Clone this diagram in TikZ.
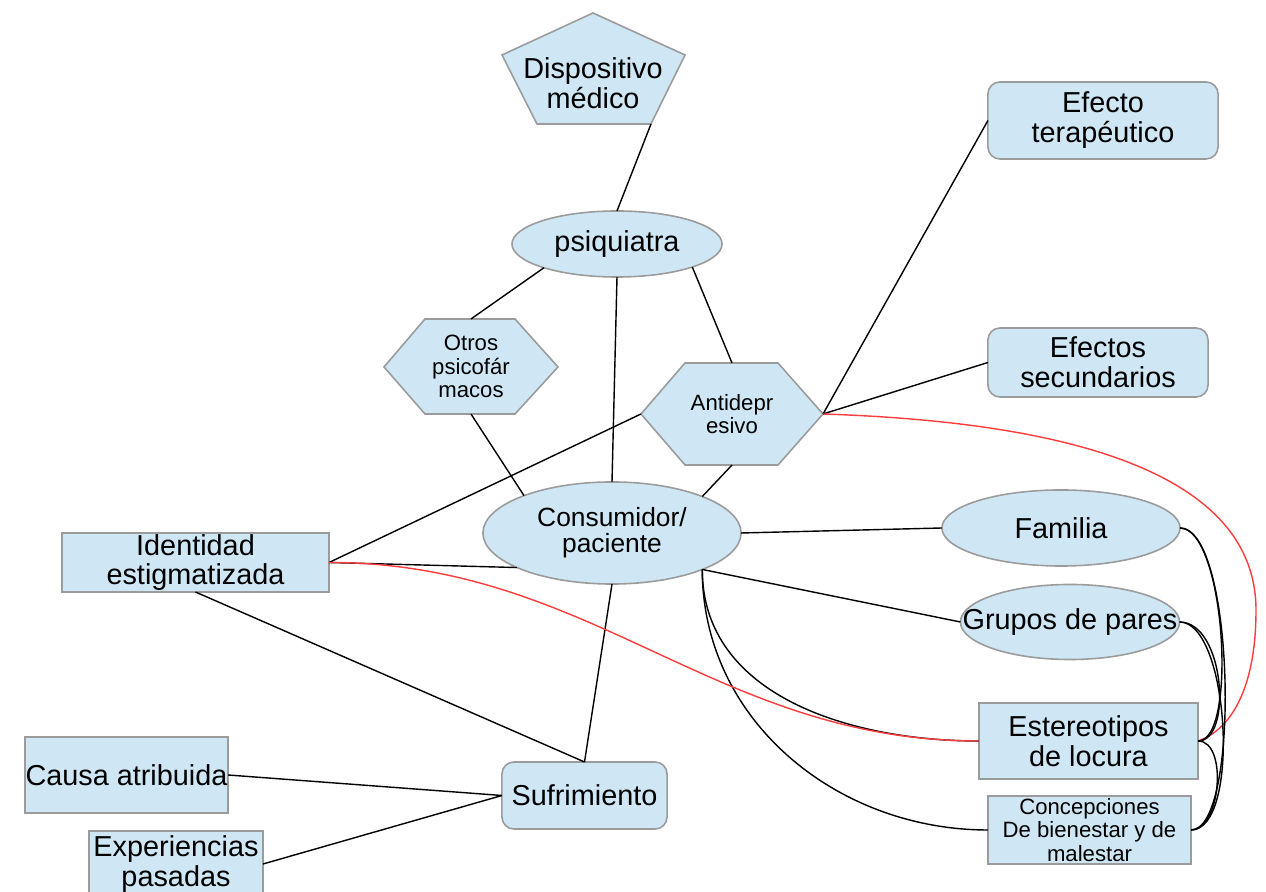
\documentclass[tikz,border=0pt]{standalone}
\usepackage{fontspec}
\setmainfont{Liberation Sans}
\usetikzlibrary{shapes.geometric,calc}
\definecolor{paleblue}{RGB}{207,231,245}
\definecolor{edgegray}{RGB}{155,155,155}
\definecolor{linkred}{RGB}{255,60,60}

\tikzset{
  shp/.style={fill=paleblue,draw=edgegray,line width=0.45pt},
  big/.style={font=\fontsize{8.2}{8.5}\selectfont},
  small/.style={font=\fontsize{6.3}{6.6}\selectfont},
  box/.style={shp,big,rectangle,inner sep=0pt,outer sep=0pt,align=center},
  rbox/.style={box,rounded corners=0.12cm},
  oval/.style={shp,big,ellipse,inner sep=0pt,outer sep=0pt},
  lbl/.style={inner sep=0pt,outer sep=0pt,align=center},
  link/.style={line width=0.4pt,black},
  redlink/.style={line width=0.4pt,linkred}
}

\begin{document}
\begin{tikzpicture}[x=0.01cm,y=-0.01cm]
\useasboundingbox (0,0) rectangle (1266,892);
\clip (0,0) rectangle (1266,892);

% pentagon and hexagons
\draw[shp] (593,13) -- (685,55) -- (651,124) -- (537,124) -- (502,55) -- cycle;
\draw[shp] (384,367) -- (425,319) -- (515,319) -- (558,367) -- (515,414) -- (425,414) -- cycle;
\draw[shp] (641,414) -- (685,363) -- (778,363) -- (823,414) -- (778,465) -- (685,465) -- cycle;

\node[lbl,big] (disp) at (593,83) {Dispositivo\\médico};
\coordinate (dispc) at (651,124);
\node[lbl,small,minimum width=1.74cm,minimum height=0.95cm] (otros) at (471,366.5) {Otros\\psicofár\\macos};
\node[lbl,small,minimum width=1.82cm,minimum height=1.02cm] (antidep) at (732,414) {Antidepr\\esivo};

\node[oval,minimum width=2.10cm,minimum height=0.66cm] (psiq) at (617,244) {psiquiatra};
\node[oval,align=center,font=\fontsize{7.5}{7.4}\selectfont,minimum width=2.58cm,minimum height=1.02cm] (cons) at (612,533) {Consumidor/\\paciente};
\node[oval,minimum width=2.38cm,minimum height=0.76cm] (fam) at (1061,528) {Familia};
\node[oval,minimum width=2.19cm,minimum height=0.75cm] (grupos) at (1070,622) {\makebox[0pt]{Grupos de pares}};

\node[rbox,minimum width=2.30cm,minimum height=0.77cm] (efecto) at (1103,120.5) {Efecto\\terapéutico};
\node[rbox,minimum width=2.20cm,minimum height=0.69cm] (efsec) at (1098,362.5) {Efectos\\secundarios};
\node[box,minimum width=2.19cm,minimum height=0.76cm] (ester) at (1088.5,741) {Estereotipos\\de locura};
\node[box,small,minimum width=2.03cm,minimum height=0.68cm] (concep) at (1089.5,830) {Concepciones\\De bienestar y de\\malestar};
\node[box,minimum width=2.67cm,minimum height=0.59cm] (ident) at (195.5,562.5) {Identidad\\estigmatizada};
\node[box,minimum width=2.03cm,minimum height=0.76cm] (causa) at (126.5,775) {Causa atribuida};
\node[box,minimum width=1.74cm,minimum height=0.66cm] (exper) at (176,864) {Experiencias\\pasadas};
\node[rbox,minimum width=1.65cm,minimum height=0.67cm] (suf) at (584.5,795.5) {Sufrimiento};

% straight links
\draw[link] (dispc) -- (psiq.north);
\draw[link] (psiq.198) -- (otros.north);
\draw[link] (psiq.south) -- (cons.north);
\draw[link] (psiq.343) -- (antidep.north);
\draw[link] (otros.south) -- (cons.157);
\draw[link] (antidep.south) -- (cons.22);
\draw[link] (antidep.west) -- (ident.east);
\draw[link] (cons.200) -- (ident.east);
\draw[link] (antidep.east) -- (efecto.west);
\draw[link] (antidep.east) -- (efsec.west);
\draw[link] (cons.east) -- (fam.west);
\draw[link] (cons.338) -- (grupos.west);
\draw[link] (cons.south) -- (suf.north);
\draw[link] (ident.south) -- (suf.north);
\draw[link] (causa.east) -- (suf.west);
\draw[link] (exper.east) -- (suf.west);

% curved links
\draw[link] (cons.338) .. controls +(0,127) and +(-127,0) .. (ester.west);
\draw[link] (cons.338) .. controls +(0,151) and +(-151,0) .. (concep.west);
\draw[redlink] (ident.east) .. controls +(264,0) and +(-264,0) .. (ester.west);
\draw[redlink] (antidep.east) .. controls (1000,420) and (1256,450) .. (1256,610)
  .. controls (1256,690) and (1230,730) .. (ester.east);
\draw[link] (fam.east) .. controls +(55,0) and +(50,0) .. (concep.east);
\draw[link] (fam.east) .. controls +(45,0) and +(40,0) .. (ester.east);
\draw[link] (grupos.east) .. controls +(50,0) and +(50,0) .. (concep.east);
\draw[link] (grupos.east) .. controls +(45,0) and +(35,0) .. (ester.east);
\draw[link] (ester.east) .. controls +(30,0) and +(30,0) .. (concep.east);
\end{tikzpicture}
\end{document}
